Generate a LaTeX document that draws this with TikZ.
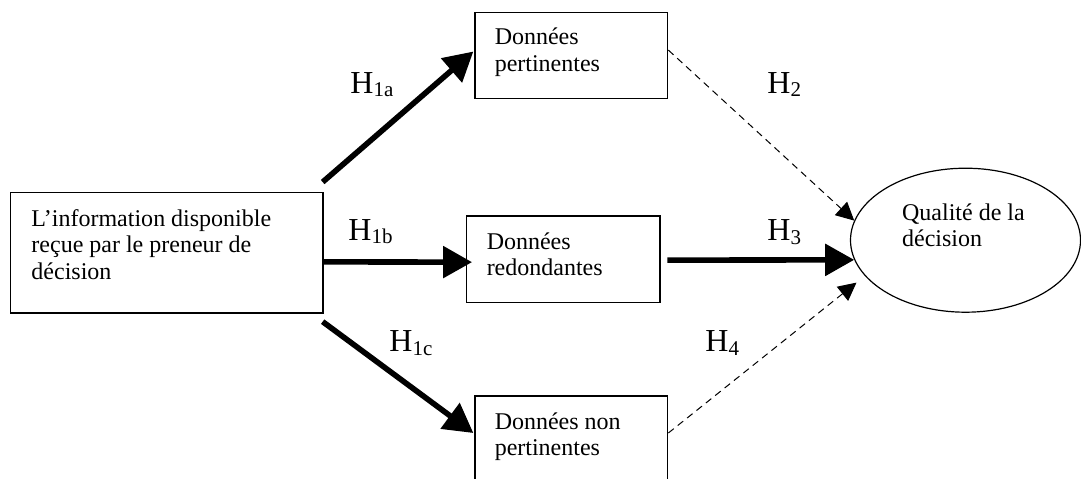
\documentclass[tikz,border=0pt]{standalone}
\usepackage{fontspec}
\setmainfont{Liberation Serif}
\usepackage{tikz}
\usetikzlibrary{arrows.meta,shapes.geometric}
\tikzset{
  box/.style={draw, rectangle, line width=0.6pt, inner sep=0pt},
  txt/.style={anchor=base west, align=left, inner sep=0pt, font=\fontsize{12}{13.3}\selectfont},
  hlab/.style={anchor=base west, inner sep=0pt, font=\fontsize{16}{18}\selectfont},
  strong/.style={line width=2.8pt, -{Triangle[length=14.5pt,width=15.5pt]}},
  weak/.style={line width=0.5pt, dash pattern=on 3.5pt off 2.5pt, -{Triangle[length=9pt,width=9pt]}}
}
\newcommand{\hsub}[1]{\raisebox{-1.7pt}{\fontsize{10.5}{12}\selectfont #1}}

\begin{document}
\begin{tikzpicture}[x=0.5pt,y=-0.5pt]

  \useasboundingbox (0,0) rectangle (1081,478);
  \clip (0,0) rectangle (1081,478);

  \node[box, minimum width=156.2pt, minimum height=60.2pt] (info) at (166.85,252.85) {};
  \node[box, minimum width=96.4pt, minimum height=42.8pt] (pert) at (571.35,55.5) {};
  \node[box, minimum width=96.7pt, minimum height=43.2pt] (redo) at (563.35,259.15) {};
  \node[box, minimum width=96.4pt, minimum height=43pt] (nonp) at (571.35,439) {};
  \node[draw, ellipse, line width=0.6pt, minimum width=115pt, minimum height=72pt, inner sep=0pt] (qual) at (965.5,240.2) {};

  % base of the last line
  \node[txt] (tinfo) at ([shift={(21,87.5)}]info.north west) {L’information disponible\\reçue par le preneur de\\décision};
  \node[txt] (tpert) at ([shift={(20,59)}]pert.north west) {Données\\pertinentes};
  \node[txt] (tredo) at ([shift={(20.3,60.3)}]redo.north west) {Données\\redondantes};
  \node[txt] (tnonp) at ([shift={(20,60.5)}]nonp.north west) {Données non\\pertinentes};
  \node[txt] (tqual) at ([shift={(-63.8,6.4)}]qual.center) {Qualité de la\\décision};

  \draw[strong] ([shift={(-1,-10)}]info.north east) -- ([shift={(-1,-4)}]pert.west);
  \draw[strong] ([yshift=-4.5pt]info.east) -- ([shift={(6,3)}]redo.west);
  \draw[strong] ([shift={(-1,8)}]info.south east) -- ([shift={(-1,-6)}]nonp.west);
  \draw[weak] ([yshift=2.7pt]pert.east) -- (qual.170);
  \draw[strong] ([shift={(6.7,1)}]redo.east) -- (qual.190);
  \draw[weak] ([yshift=3pt]nonp.east) -- ([shift={(-9,6)}]qual.200);

  \node[hlab] (h1a) at (350,93.3) {H\hsub{1a}};
  \node[hlab] (h1b) at (348,240) {H\hsub{1b}};
  \node[hlab] (h1c) at (389,351.7) {H\hsub{1c}};
  \node[hlab] (h2) at (767,93.3) {H\hsub{2}};
  \node[hlab] (h3) at (767,240.7) {H\hsub{3}};
  \node[hlab] (h4) at (705,351.7) {H\hsub{4}};

\end{tikzpicture}
\end{document}
